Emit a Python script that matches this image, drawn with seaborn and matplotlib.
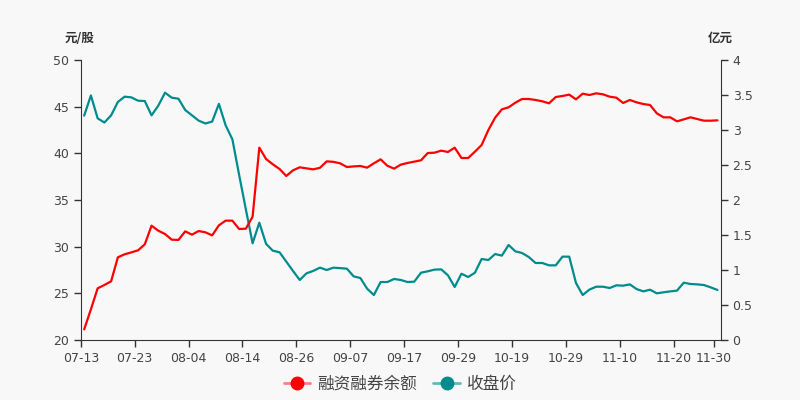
import numpy as np
import pandas as pd
import seaborn as sns
import matplotlib.pyplot as plt
from matplotlib.lines import Line2D

# trading days, 2020-07-13 .. 2020-11-30
jul = ['13', '14', '15', '16', '17', '20', '21', '22', '23', '24', '27', '28', '29', '30', '31']
aug = ['03', '04', '05', '06', '07', '10', '11', '12', '13', '14', '17', '18', '19', '20', '21',
       '24', '25', '26', '27', '28', '31']
sep = ['01', '02', '03', '04', '07', '08', '09', '10', '11', '14', '15', '16', '17', '18', '21',
       '22', '23', '24', '25', '28', '29', '30']
octo = ['09', '12', '13', '14', '15', '16', '19', '20', '21', '22', '23', '26', '27', '28', '29', '30']
nov = ['02', '03', '04', '05', '06', '09', '10', '11', '12', '13', '16', '17', '18', '19', '20',
       '23', '24', '25', '26', '27', '30']
dates = (['07-' + d for d in jul] + ['08-' + d for d in aug] + ['09-' + d for d in sep]
         + ['10-' + d for d in octo] + ['11-' + d for d in nov])

# 收盘价 (元/股)
close = [44.04, 46.2, 43.75, 43.3, 44.07, 45.5, 46.07, 46.0, 45.64, 45.6,
         44.07, 45.1, 46.5, 45.96, 45.85, 44.64, 44.07, 43.5, 43.2, 43.4,
         45.3, 43.0, 41.5, 37.7, 34.0, 30.36, 32.57, 30.3, 29.57, 29.4,
         28.4, 27.4, 26.43, 27.14, 27.4, 27.75, 27.5, 27.75, 27.7, 27.64,
         26.82, 26.64, 25.5, 24.82, 26.21, 26.21, 26.54, 26.43, 26.21, 26.25,
         27.21, 27.36, 27.54, 27.57, 26.93, 25.68, 27.1, 26.75, 27.21, 28.68,
         28.57, 29.21, 29.04, 30.18, 29.5, 29.32, 28.89, 28.25, 28.25, 28.0,
         28.0, 28.93, 28.93, 26.11, 24.82, 25.4, 25.71, 25.71, 25.57, 25.86,
         25.82, 25.96, 25.46, 25.21, 25.39, 25.0, 25.11, 25.21, 25.29, 26.14,
         26.0, 25.96, 25.89, 25.64, 25.36]

# 融资融券余额 (亿元)
balance = [0.152, 0.438, 0.738, 0.786, 0.838, 1.181, 1.224, 1.252, 1.281, 1.367,
           1.633, 1.562, 1.514, 1.433, 1.43, 1.552, 1.505, 1.557, 1.538, 1.495,
           1.638, 1.705, 1.705, 1.586, 1.59, 1.762, 2.748, 2.586, 2.51, 2.443,
           2.343, 2.424, 2.467, 2.452, 2.438, 2.46, 2.552, 2.545, 2.524, 2.471,
           2.48, 2.486, 2.462, 2.524, 2.581, 2.49, 2.448, 2.505, 2.529, 2.548,
           2.567, 2.671, 2.676, 2.705, 2.686, 2.748, 2.6, 2.6, 2.69, 2.786,
           3.0, 3.176, 3.295, 3.324, 3.39, 3.443, 3.443, 3.429, 3.41, 3.381,
           3.471, 3.486, 3.505, 3.438, 3.519, 3.5, 3.524, 3.51, 3.476, 3.462,
           3.386, 3.429, 3.395, 3.371, 3.357, 3.238, 3.181, 3.181, 3.124, 3.152,
           3.181, 3.157, 3.133, 3.133, 3.138]

tick_labels = ['07-13', '07-23', '08-04', '08-14', '08-26', '09-07', '09-17',
               '09-29', '10-19', '10-29', '11-10', '11-20', '11-30']

RED = '#ff0000'
TEAL = '#008c8c'
BG = '#f8f8f8'
AX = '#333333'

sns.set_style('ticks')
plt.rcParams['font.family'] = ['DejaVu Sans', 'Noto Sans CJK SC']
plt.rcParams['axes.edgecolor'] = AX
plt.rcParams['xtick.color'] = AX
plt.rcParams['ytick.color'] = AX

df = pd.DataFrame({'date': dates, 'close': close, 'balance': balance})
df['pos'] = np.arange(len(df))

fig = plt.figure(figsize=(8, 4), dpi=100, facecolor=BG)
ax = fig.add_axes([0.101, 0.15, 0.8, 0.70])
ax.set_facecolor(BG)
ax2 = ax.twinx()

sns.lineplot(data=df, x='pos', y='close', ax=ax, color=TEAL, lw=1.6, legend=False)
sns.lineplot(data=df, x='pos', y='balance', ax=ax2, color=RED, lw=1.6, legend=False)

ax.set_xlim(-0.5, len(df) - 0.5)
ax.set_ylim(20, 50)
ax2.set_ylim(0, 4)
ax.set_yticks(np.arange(20, 51, 5))
ax2.set_yticks(np.arange(0, 4.01, 0.5))
ax2.set_yticklabels(['0', '0.5', '1', '1.5', '2', '2.5', '3', '3.5', '4'])

tick_pos = [dates.index(t) - 0.5 for t in tick_labels]
ax.set_xticks(tick_pos)
ax.set_xticklabels(tick_labels)

for a in (ax, ax2):
    a.set_xlabel('')
    a.set_ylabel('')
    a.spines['top'].set_visible(False)
    for s in ('left', 'right', 'bottom'):
        a.spines[s].set_color(AX)
    a.tick_params(labelsize=9, length=5, width=1, colors=AX, labelcolor='#444444')
ax.spines['right'].set_visible(False)
ax2.spines['left'].set_visible(False)
ax2.spines['bottom'].set_visible(False)

fig.text(0.1, 0.905, '元/股', ha='center', va='center', fontsize=9, color=AX,
         family=['Noto Sans CJK SC'], fontweight='bold')
fig.text(0.9, 0.905, '亿元', ha='center', va='center', fontsize=9, color=AX,
         family=['Noto Sans CJK SC'], fontweight='bold')

handles = [
    Line2D([], [], color='#ff7f7f', lw=2, marker='o', markersize=9,
           markerfacecolor=RED, markeredgecolor=RED),
    Line2D([], [], color='#66b8b8', lw=2, marker='o', markersize=9,
           markerfacecolor=TEAL, markeredgecolor=TEAL),
]
fig.legend(handles, ['融资融券余额', '收盘价'], loc='center', bbox_to_anchor=(0.5, 0.04),
           ncol=2, frameon=False, handlelength=1.6, handletextpad=0.4, columnspacing=1.0,
           prop={'family': ['Noto Sans CJK SC'], 'size': 12}, labelcolor='#444444')

fig.savefig('out.png', dpi=100, facecolor=BG)
